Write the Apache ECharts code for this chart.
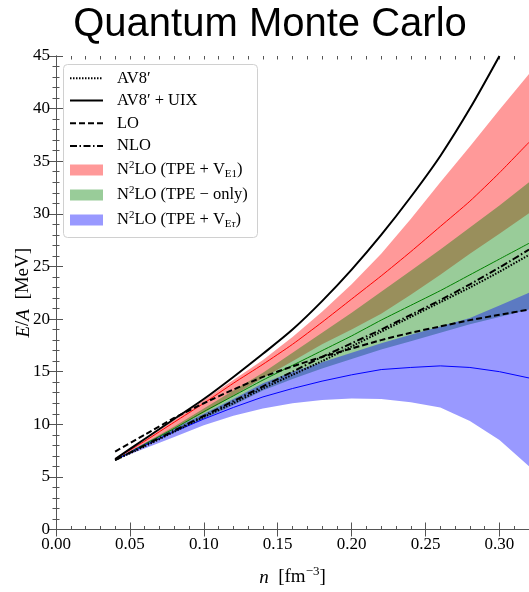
<!DOCTYPE html>
<html><head><meta charset="utf-8">
<script src="https://cdn.jsdelivr.net/npm/echarts@6/dist/echarts.min.js"></script>
<style>html,body{margin:0;padding:0;background:#fff}#c{width:529px;height:592px}</style>
</head><body><div id="c"></div>
<script>
// ---- data ----
const density = [0.04,0.06,0.08,0.10,0.12,0.14,0.16,0.18,0.20,0.22,0.24,0.26,0.28,0.30,0.32];
const av8      = [6.6,7.9,9.3,10.7,12.0,13.4,14.7,16.0,17.4,18.8,20.2,21.6,23.0,24.5,26.1];
const av8uix   = [6.7,8.6,10.5,12.4,14.5,16.7,19.0,21.7,24.7,28.0,31.6,35.5,40.0,45.0];
const lo       = [7.4,9.0,10.6,12.0,13.3,14.5,15.5,16.4,17.2,18.0,18.7,19.3,19.9,20.4,20.9];
const nlo      = [6.6,8.0,9.4,10.8,12.2,13.6,15.0,16.4,17.7,19.0,20.4,21.8,23.3,24.9,26.6];
const e1Upper  = [6.7,8.5,10.4,12.3,14.2,16.1,18.3,20.7,23.3,26.2,29.5,33.0,36.4,39.9,43.3];
const e1Center = [6.7,8.4,10.2,12.0,13.9,15.7,17.6,19.7,21.9,24.1,26.4,28.8,31.2,33.9,36.8];
const e1Lower  = [6.6,8.1,9.6,11.1,12.7,14.4,16.0,17.6,19.0,20.5,22.3,24.2,26.2,28.1,30.05];
const tpeUpper = [6.6,8.2,9.8,11.5,13.2,14.9,16.8,18.7,20.6,22.6,24.6,26.6,28.7,30.8,33.0];
const tpeCenter= [6.6,8.1,9.6,11.2,12.7,14.2,15.6,17.0,18.4,19.9,21.3,22.7,24.2,25.7,27.2];
const tpeLower = [6.6,7.9,9.2,10.5,11.8,13.2,14.3,15.3,16.2,17.1,17.9,18.7,19.5,20.2,20.9];
const etUpper  = [6.7,8.2,9.6,11.0,12.4,13.9,15.0,15.9,16.8,17.7,18.5,19.3,20.1,21.3,22.5];
const etCenter = [6.6,8.0,9.3,10.5,11.6,12.6,13.4,14.1,14.7,15.2,15.4,15.55,15.4,15.0,14.4];
const etLower  = [6.6,7.7,8.8,9.9,10.8,11.5,12.0,12.3,12.45,12.4,12.1,11.6,10.3,8.5,6.0];
const legendLabels = [
  '{t|AV8′}',
  '{t|AV8′ + UIX}',
  '{t|LO}',
  '{t|NLO}',
  '{t|N}{sup|2}{t|LO (TPE + V}{sub|E1}{t|)}',
  '{t|N}{sup|2}{t|LO (TPE − only)}',
  '{t|N}{sup|2}{t|LO (TPE + V}{sub|E}{subi|τ}{t|)}'
];
const titleText = 'Quantum Monte Carlo';

// ---- styles ----
const SERIF = 'Liberation Serif';
const axisColor = '#555';
const RED_FILL = 'rgba(255,0,0,0.4)', GREEN_FILL = 'rgba(0,128,0,0.4)', BLUE_FILL = 'rgba(0,0,255,0.4)';
const DOT = [1.5, 1.5], DASH = [6, 3], DASHDOT = [7, 2.5, 1.5, 2.5];

const pairs = ys => ys.map((y, i) => [density[i], y]);
function band(upper, lower, fill) {
  return {
    type: 'custom', z: 1, silent: true, animation: false, clip: true,
    data: density.map((d, i) => [d, upper[i], lower[i]]),
    encode: { x: 0, y: [1, 2] },
    renderItem: (params, api) => {
      if (params.dataIndex !== 0) return null;
      const top = upper.map((u, i) => api.coord([density[i], u]));
      const bot = lower.map((l, i) => api.coord([density[i], l])).reverse();
      return { type: 'polygon', shape: { points: top.concat(bot) }, style: { fill: fill } };
    }
  };
}
function line(ys, color, width, type, z, smooth) {
  return { type: 'line', data: pairs(ys), symbol: 'none', smooth: smooth || false, color: color,
    lineStyle: { color: color, width: width, type: type }, z: z, animation: false, silent: true };
}
const series = [
  band(e1Upper, e1Lower, RED_FILL),
  band(tpeUpper, tpeLower, GREEN_FILL),
  band(etUpper, etLower, BLUE_FILL),
  line(e1Center, '#ff0000', 1, 'solid', 2, 0.2),
  line(tpeCenter, '#008000', 1, 'solid', 2, 0.2),
  line(etCenter, '#0000ff', 1, 'solid', 2, false),
  line(av8, '#000', 2, DOT, 3, 0.2),
  line(av8uix, '#000', 2, 'solid', 3, 0.3),
  line(lo, '#000', 2, DASH, 3, 0.2),
  line(nlo, '#000', 2, DASHDOT, 3, 0.2)
];

// ---- legend drawn as graphic ----
const rowY = [78.3, 100.5, 123.3, 146, 170, 195, 220];
const samples = [
  { kind: 'line', dash: DOT }, { kind: 'line', dash: null }, { kind: 'line', dash: DASH },
  { kind: 'line', dash: DASHDOT }, { kind: 'rect', fill: RED_FILL }, { kind: 'rect', fill: GREEN_FILL },
  { kind: 'rect', fill: BLUE_FILL }
];
const legendEls = [{ type: 'rect', shape: { x: 63.5, y: 64.5, width: 194, height: 173, r: 4 },
  style: { fill: 'rgba(255,255,255,0.8)', stroke: '#d0d0d0', lineWidth: 1 }, z: 10 }];
samples.forEach((s, i) => {
  const y = rowY[i];
  if (s.kind === 'line') {
    legendEls.push({ type: 'line', shape: { x1: 70, y1: y, x2: 103, y2: y },
      style: { stroke: '#000', lineWidth: 2, lineDash: s.dash }, z: 11 });
  } else {
    legendEls.push({ type: 'rect', shape: { x: 70, y: y - 5.5, width: 33, height: 11 },
      style: { fill: s.fill }, z: 11 });
  }
  legendEls.push({ type: 'text', x: 117, y: y, z: 11, style: {
    text: legendLabels[i], fill: '#000', verticalAlign: 'middle', align: 'left',
    rich: {
      t: { fontFamily: SERIF, fontSize: 16.5, lineHeight: 20, fill: '#000' },
      sup: { fontFamily: SERIF, fontSize: 11, lineHeight: 11, verticalAlign: 'top', fill: '#000' },
      sub: { fontFamily: SERIF, fontSize: 11, lineHeight: 11, verticalAlign: 'bottom', fill: '#000' },
      subi: { fontFamily: SERIF, fontSize: 11, lineHeight: 11, verticalAlign: 'bottom', fontStyle: 'italic', fill: '#000' }
    } } });
});

const baseX = { type: 'value', min: 0, max: 0.32, gridIndex: 0, splitLine: { show: false } };
const chart = echarts.init(document.getElementById('c'), null, { renderer: 'canvas' });
chart.setOption({
  animation: false,
  backgroundColor: '#fff',
  graphic: [{ type: 'text', x: 270, y: 25, z: 20,
    style: { text: titleText, font: '40px "Liberation Sans"', fill: '#000',
      align: 'center', verticalAlign: 'middle' } }].concat(legendEls),
  grid: { left: 56, right: 0, top: 56, bottom: 62 },
  xAxis: [
    Object.assign({}, baseX, { position: 'bottom', interval: 0.05,
      axisLine: { show: true, lineStyle: { color: axisColor, width: 1 } },
      axisTick: { show: true, inside: true, length: 7, lineStyle: { color: axisColor } },
      axisLabel: { show: true, margin: 7, color: '#000', fontFamily: SERIF, fontSize: 17,
        showMaxLabel: false, formatter: v => v.toFixed(2) },
      name: '{i|n}  {t|[fm}{sup|−3}{t|]}', nameLocation: 'middle', nameGap: 36, nameMoveOverlap: false,
      nameTextStyle: { color: '#000', fontFamily: SERIF, fontSize: 19,
        rich: { i: { fontStyle: 'italic', fontSize: 19, fontFamily: SERIF, lineHeight: 24 },
                t: { fontSize: 19, fontFamily: SERIF, lineHeight: 24 },
                sup: { fontSize: 13, fontFamily: SERIF, verticalAlign: 'top', lineHeight: 13 } } } }),
    Object.assign({}, baseX, { position: 'top', interval: 0.05,
      axisLine: { show: true, lineStyle: { color: axisColor, width: 1 } },
      axisTick: { show: true, inside: true, length: 7, lineStyle: { color: axisColor } },
      axisLabel: { show: false } }),
    Object.assign({}, baseX, { position: 'bottom', interval: 0.01,
      axisLine: { show: false }, axisLabel: { show: false },
      axisTick: { show: true, inside: true, length: 3.5, lineStyle: { color: axisColor } } }),
    Object.assign({}, baseX, { position: 'top', interval: 0.01,
      axisLine: { show: false }, axisLabel: { show: false },
      axisTick: { show: true, inside: true, length: 3.5, lineStyle: { color: axisColor } } })
  ],
  yAxis: [
    { type: 'value', min: 0, max: 45, interval: 5, position: 'left', splitLine: { show: false },
      axisLine: { show: true, lineStyle: { color: axisColor, width: 1 } },
      axisTick: { show: true, inside: true, length: 7, lineStyle: { color: axisColor } },
      minorTick: { show: true, splitNumber: 5, length: 3.5, lineStyle: { color: axisColor } },
      axisLabel: { show: true, margin: 6, color: '#000', fontFamily: SERIF, fontSize: 17 },
      name: '{i|E}{t|/}{i|A}  {t|[MeV]}', nameLocation: 'middle', nameGap: 23, nameRotate: 90,
      nameMoveOverlap: false,
      nameTextStyle: { color: '#000', fontFamily: SERIF, fontSize: 19,
        rich: { i: { fontStyle: 'italic', fontSize: 19, fontFamily: SERIF },
                t: { fontSize: 19, fontFamily: SERIF } } } },
    { type: 'value', min: 0, max: 45, interval: 5, position: 'right', splitLine: { show: false },
      axisLine: { show: true, lineStyle: { color: axisColor, width: 1 } },
      axisTick: { show: true, inside: true, length: 7, lineStyle: { color: axisColor } },
      minorTick: { show: true, splitNumber: 5, length: 3.5, lineStyle: { color: axisColor } },
      axisLabel: { show: false } }
  ],
  series: series
});
</script></body></html>
